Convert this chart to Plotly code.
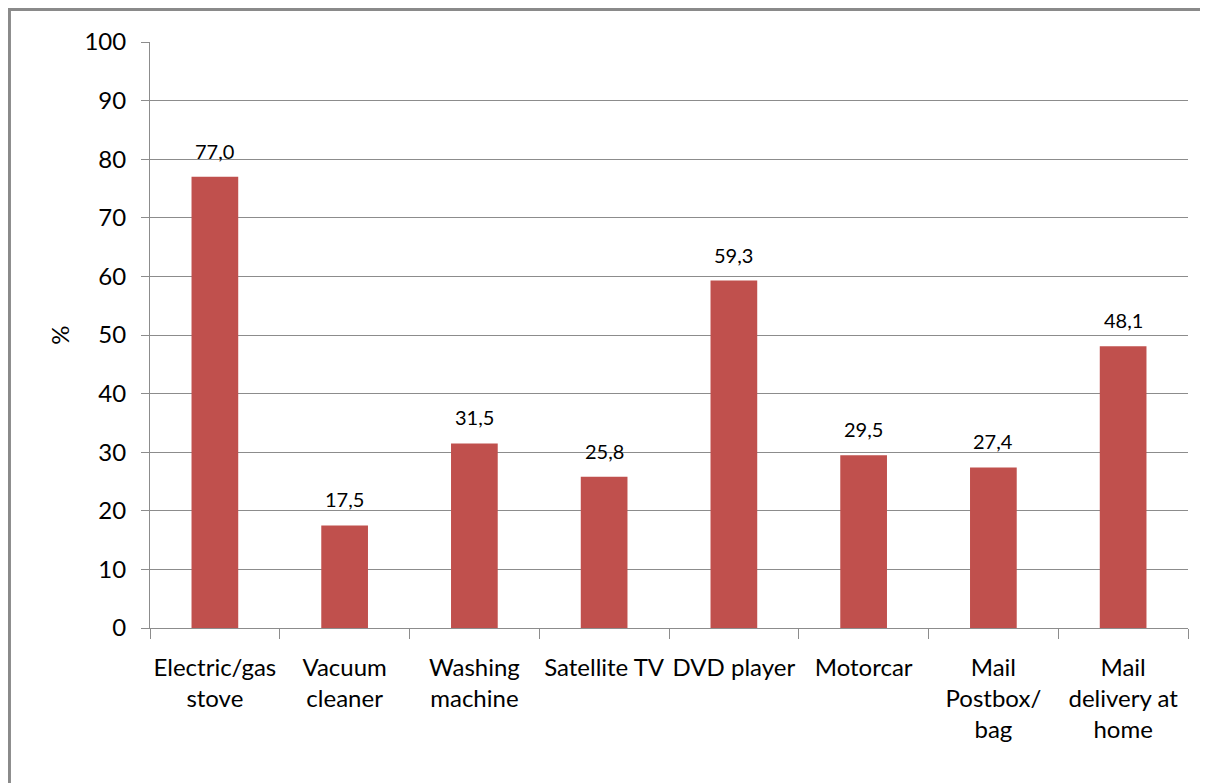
import plotly.graph_objects as go

# data
categories = ["Electric/gas<br>stove", "Vacuum<br>cleaner", "Washing<br>machine",
              "Satellite TV", "DVD player", "Motorcar",
              "Mail<br>Postbox/<br>bag", "Mail<br>delivery at<br>home"]
values = [77.0, 17.5, 31.5, 25.8, 59.3, 29.5, 27.4, 48.1]
y_ticks = [0, 10, 20, 30, 40, 50, 60, 70, 80, 90, 100]

FONT = "Lato, Open Sans, sans-serif"
GRID = "#8c8c8c"

fig = go.Figure(go.Bar(
    x=categories,
    y=values,
    marker=dict(color="#C0504D", line=dict(width=0)),
    width=0.36,
    hoverinfo="x+y",
))

# value labels above the bars, comma decimals
for c, v in zip(categories, values):
    fig.add_annotation(x=c, y=v, text=f"{v:.1f}".replace(".", ","),
                       showarrow=False, yanchor="bottom", yshift=12,
                       font=dict(family=FONT, size=20, color="#000"))

# page body has an 8px margin, so margins are shifted to compensate
fig.update_layout(
    width=1208, height=783,
    margin=dict(l=142, r=28, t=34, b=163),
    paper_bgcolor="white", plot_bgcolor="white",
    showlegend=False,
    font=dict(family=FONT, color="#000"),
    yaxis=dict(range=[0, 100], tickvals=y_ticks, showgrid=True,
               gridcolor=GRID, gridwidth=1, zeroline=False,
               showline=True, linecolor=GRID, linewidth=1,
               ticks="outside", ticklen=8, tickcolor=GRID,
               tickfont=dict(size=24), ticklabelstandoff=10,
               title=dict(text="%", font=dict(size=24), standoff=8)),
    xaxis=dict(showgrid=False, showline=True, linecolor=GRID, linewidth=1,
               ticks="outside", tickson="boundaries", ticklen=10, tickcolor=GRID,
               tickfont=dict(size=24), tickangle=0, ticklabelstandoff=18),
    # outer frame (only top and left edges fall inside the picture)
    shapes=[dict(type="rect", xref="paper", yref="paper",
                 x0=-0.1354, y0=-0.3, x1=1.03, y1=1.0555,
                 line=dict(color="#8a8a8a", width=3), layer="below")],
)

fig.write_html("out.html")
